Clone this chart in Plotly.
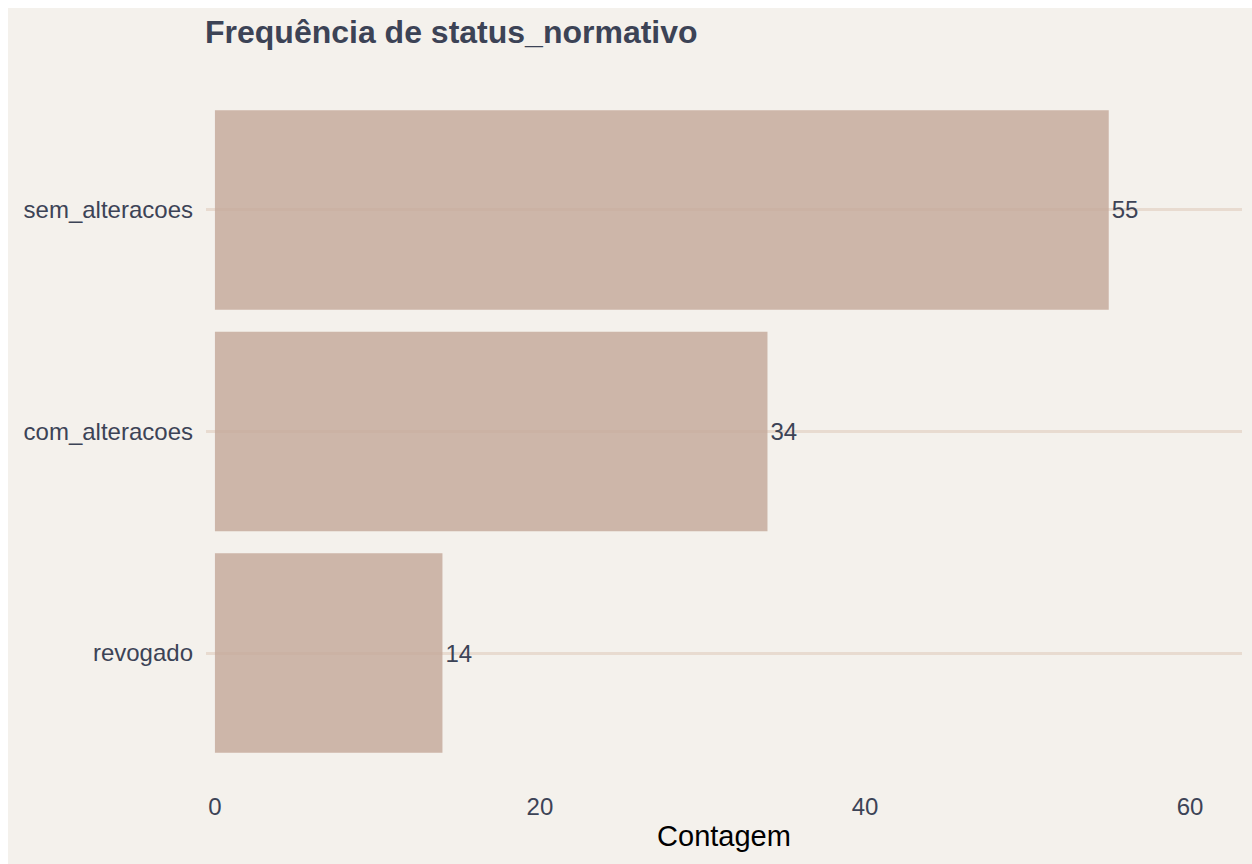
import plotly.graph_objects as go

categories = ["revogado", "com_alteracoes", "sem_alteracoes"]
counts = [14, 34, 55]
x_ticks = [0, 20, 40, 60]
title_text = "Frequência de status_normativo"
x_title = "Contagem"

OFF = 8  # page body margin (left / top)
W, H = 1252 - OFF, 864 - OFF
L, T = 206 - OFF, 77 - OFF
pw, ph = 1036, 709
R = W - L - pw
B = H - T - ph

BG = "#F4F1EC"
TXT = "#3C4356"
FONT = "Liberation Sans, Arial, Helvetica, sans-serif"

fig = go.Figure()
fig.add_trace(go.Bar(
    y=categories, x=counts, orientation="h",
    width=0.9,
    marker=dict(color="rgba(195,167,153,0.8)", line=dict(width=0)),
    text=[str(v) for v in counts], textposition="outside",
    textfont=dict(size=24, color=TXT, family=FONT),
    cliponaxis=False, hoverinfo="skip",
))

fig.update_layout(
    width=W, height=H,
    margin=dict(l=L, r=R, t=T, b=B, autoexpand=False),
    paper_bgcolor=BG, plot_bgcolor=BG,
    showlegend=False,
    font=dict(family=FONT, color=TXT),
    title=dict(text="<b>" + title_text + "</b>", x=(205 - OFF) / W, xref="container", xanchor="left",
               y=1 - (32 - OFF) / H, yref="container", yanchor="middle",
               font=dict(size=32, color=TXT, family=FONT)),
    bargap=0.1,
)
fig.update_xaxes(
    range=[-0.55, 63.2], tickvals=x_ticks, ticktext=[str(v) for v in x_ticks],
    showgrid=False, zeroline=False, showline=False, ticks="",
    tickfont=dict(size=24, color=TXT, family=FONT), ticklabelstandoff=4,
    title=dict(text=x_title, font=dict(size=29, color="black", family=FONT), standoff=6),
)
fig.update_yaxes(
    categoryorder="array", categoryarray=categories, range=[-0.6, 2.6],
    showgrid=True, gridcolor="#E8DBD0", gridwidth=2.5, zeroline=False, showline=False, ticks="",
    tickfont=dict(size=24, color=TXT, family=FONT), ticklabelstandoff=12,
)

fig.write_html("out.html",
               post_script="document.body.style.margin='8px 0px 0px 8px';document.body.style.overflow='hidden';")
